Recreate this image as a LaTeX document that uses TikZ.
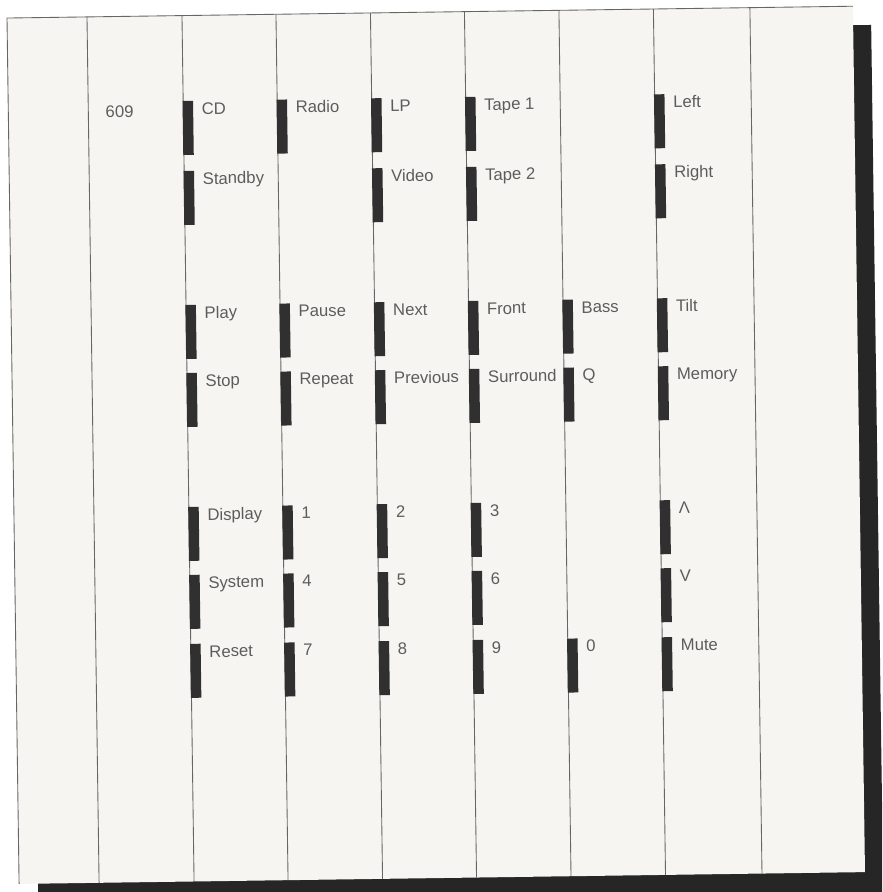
\documentclass[tikz,border=0pt]{standalone}
\usepackage{fontspec}
\setmainfont{Liberation Sans}
\usetikzlibrary{positioning}
\definecolor{panelWhite}{RGB}{246,245,241}
\definecolor{keyBlack}{RGB}{48,48,48}
\definecolor{shadowGrey}{RGB}{38,38,38}
\definecolor{inkGrey}{RGB}{92,92,92}

% one key: name, column line, top edge, label
\newcommand{\remkey}[4]{%
  \node[keybar] (#1) at (#2-1,#3) {};
  \node[keylabel] (#1Lbl) at ([shift={(8,14)}]#1.north east) {#4};
}

\begin{document}
\begin{tikzpicture}[x=0.02cm,y=-0.02cm,
    rule/.style={draw=black!60,line width=0.5pt},
    keybar/.style={fill=keyBlack,inner sep=0pt,minimum width=0.21cm,minimum height=1.08cm,anchor=north west},
    keylabel/.style={font=\fontsize{9.5}{11}\selectfont,text=inkGrey,inner sep=0pt,anchor=base west}]
  \useasboundingbox (0,0) rectangle (882,892);
  \clip (0,0) rectangle (882,892);
  \fill[white] (0,0) rectangle (882,892);
  \begin{scope}[rotate around={0.8:(441,446)},transform shape]
    % shadow and card
    \fill[shadowGrey] (32,31) rectangle (877,900);
    \fill[panelWhite] (13,12) rectangle (859,878);
    \draw[rule] (13,878) -- (13,12) -- (859,12);
    % column rules
    \foreach \cx in {93,188,282,376.5,470.5,565,659.5,756}
      \draw[rule] (\cx,12) -- (\cx,878);
    \node[keylabel] (modelNo) at (110,113) {609};
    % column 2
    \remkey{keyCD}{188}{97}{CD}
    \remkey{keyStandby}{188}{167}{Standby}
    \remkey{keyPlay}{188}{301}{Play}
    \remkey{keyStop}{188}{369}{Stop}
    \remkey{keyDisplay}{188}{503}{Display}
    \remkey{keySystem}{188}{571}{System}
    \remkey{keyReset}{188}{640}{Reset}
    % column 3
    \remkey{keyRadio}{282}{97}{Radio}
    \remkey{keyPause}{282}{301}{Pause}
    \remkey{keyRepeat}{282}{369}{Repeat}
    \remkey{keyOne}{282}{503}{1}
    \remkey{keyFour}{282}{571}{4}
    \remkey{keySeven}{282}{640}{7}
    % column 4
    \remkey{keyLP}{376.5}{97}{LP}
    \remkey{keyVideo}{376.5}{167}{Video}
    \remkey{keyNext}{376.5}{301}{Next}
    \remkey{keyPrev}{376.5}{369}{Previous}
    \remkey{keyTwo}{376.5}{503}{2}
    \remkey{keyFive}{376.5}{571}{5}
    \remkey{keyEight}{376.5}{640}{8}
    % column 5
    \remkey{keyTapeI}{470.5}{97}{Tape 1}
    \remkey{keyTapeII}{470.5}{167}{Tape 2}
    \remkey{keyFront}{470.5}{301}{Front}
    \remkey{keySurround}{470.5}{369}{Surround}
    \remkey{keyThree}{470.5}{503}{3}
    \remkey{keySix}{470.5}{571}{6}
    \remkey{keyNine}{470.5}{640}{9}
    % column 6
    \remkey{keyBass}{565}{301}{Bass}
    \remkey{keyQ}{565}{369}{Q}
    \remkey{keyZero}{565}{640}{0}
    % column 7
    \remkey{keyLeft}{659.5}{97}{Left}
    \remkey{keyRight}{659.5}{167}{Right}
    \remkey{keyTilt}{659.5}{301}{Tilt}
    \remkey{keyMemory}{659.5}{369}{Memory}
    \remkey{keyUp}{659.5}{503}{Λ}
    \remkey{keyDown}{659.5}{571}{V}
    \remkey{keyMute}{659.5}{640}{Mute}
  \end{scope}
\end{tikzpicture}
\end{document}
